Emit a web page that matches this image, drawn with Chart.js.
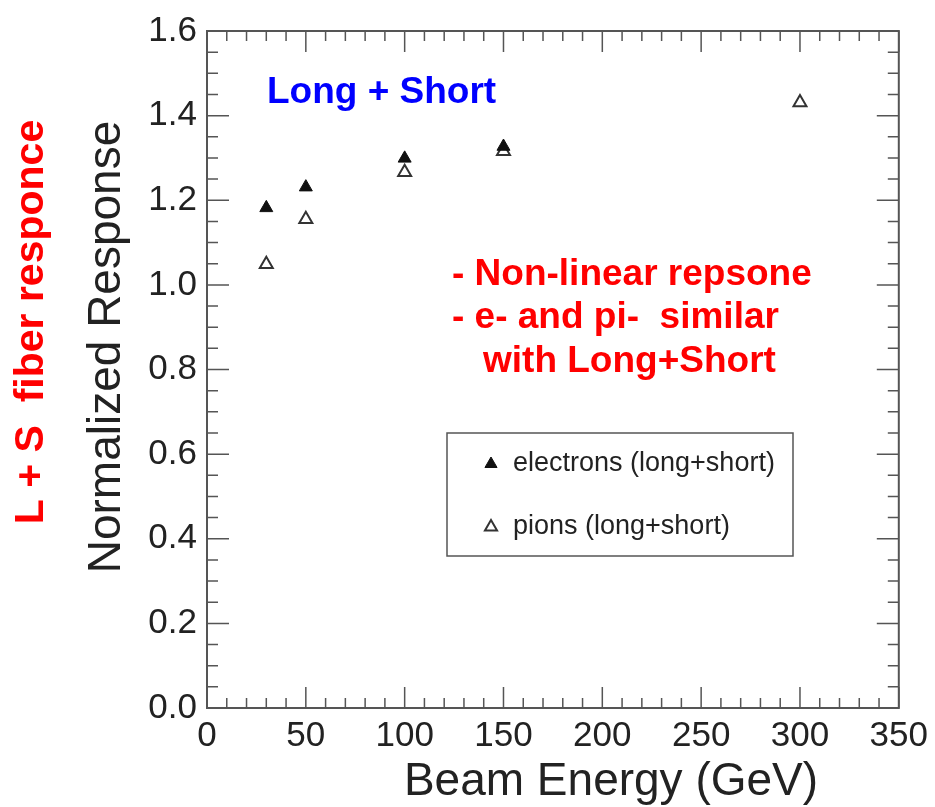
<!DOCTYPE html>
<html>
<head>
<meta charset="utf-8">
<title>Normalized Response vs Beam Energy</title>
<script src="https://cdn.jsdelivr.net/npm/chart.js@4.4.0/dist/chart.umd.min.js"></script>
<style>
  html, body { margin: 0; padding: 0; background: #fff; }
  #wrap { width: 935px; height: 807px; }
</style>
</head>
<body>
<div id="wrap"><canvas id="responseChart" width="935" height="807"></canvas></div>
<script>
// data
const electronEnergy = [30, 50, 100, 150];
const electronResponse = [1.182, 1.231, 1.299, 1.327];
const pionEnergy = [30, 50, 100, 150, 300];
const pionResponse = [1.049, 1.155, 1.266, 1.316, 1.431];
const xTicks = [0, 50, 100, 150, 200, 250, 300, 350];
const yTicks = [0.0, 0.2, 0.4, 0.6, 0.8, 1.0, 1.2, 1.4, 1.6];

const FONT = "'Liberation Sans', Arial, Helvetica, sans-serif";
const AXIS_COLOR = "#555";
const TEXT_COLOR = "#222";

// frame with inward ticks on all four sides
const frameTicks = {
  id: "frameTicks",
  afterDatasetsDraw(chart) {
    const { ctx, chartArea: a, scales: { x, y } } = chart;
    ctx.save();
    ctx.strokeStyle = AXIS_COLOR;
    ctx.lineWidth = 1.5;
    ctx.beginPath();
    for (let v = x.min; v <= x.max; v += 10) {
      const px = x.getPixelForValue(v);
      const len = v % 50 === 0 ? 21 : 10;
      ctx.moveTo(px, a.bottom); ctx.lineTo(px, a.bottom - len);
      ctx.moveTo(px, a.top); ctx.lineTo(px, a.top + len);
    }
    for (let i = 0; i <= 32; i++) {
      const py = y.getPixelForValue(i * 0.05);
      const len = i % 4 === 0 ? 22 : 11;
      ctx.moveTo(a.left, py); ctx.lineTo(a.left + len, py);
      ctx.moveTo(a.right, py); ctx.lineTo(a.right - len, py);
    }
    ctx.stroke();
    ctx.lineWidth = 2;
    ctx.strokeRect(a.left, a.top, a.right - a.left, a.bottom - a.top);
    ctx.restore();
  }
};

// axis titles, notes and the boxed legend
const annotations = {
  id: "annotations",
  afterDraw(chart) {
    const { ctx } = chart;
    ctx.save();
    ctx.textAlign = "left";
    ctx.textBaseline = "alphabetic";

    ctx.fillStyle = "#0000ff";
    ctx.font = "bold 37px " + FONT;
    ctx.fillText("Long + Short", 267, 103);

    ctx.fillStyle = "#ff0000";
    ctx.fillText("- Non-linear repsone", 452, 285);
    ctx.fillText("- e- and pi-  similar", 452, 328);
    ctx.fillText("with Long+Short", 483, 372);

    // x title
    ctx.fillStyle = TEXT_COLOR;
    ctx.font = "46px " + FONT;
    ctx.textAlign = "center";
    ctx.fillText("Beam Energy (GeV)", 611, 795);

    // y title
    ctx.save();
    ctx.translate(120, 347);
    ctx.rotate(-Math.PI / 2);
    ctx.fillText("Normalized Response", 0, 0);
    ctx.restore();

    // side note
    ctx.save();
    ctx.translate(43, 322);
    ctx.rotate(-Math.PI / 2);
    ctx.fillStyle = "#ff0000";
    ctx.font = "bold 41px " + FONT;
    ctx.fillText("L + S  fiber responce", 0, 0);
    ctx.restore();

    // legend
    ctx.strokeStyle = AXIS_COLOR;
    ctx.lineWidth = 1.5;
    ctx.strokeRect(447, 433, 346, 123);
    const rows = [464, 527];
    chart.data.datasets.forEach((ds, i) => {
      ctx.fillStyle = ds.backgroundColor;
      ctx.strokeStyle = ds.borderColor;
      ctx.lineWidth = ds.borderWidth;
      Chart.helpers.drawPoint(ctx, {
        pointStyle: "triangle",
        radius: 7,
        borderWidth: ds.borderWidth,
      }, 491, rows[i]);
      ctx.fillStyle = TEXT_COLOR;
      ctx.font = "27px " + FONT;
      ctx.textAlign = "left";
      ctx.fillText(ds.label, 513, rows[i] + 7);
    });
    ctx.restore();
  }
};

document.addEventListener("DOMContentLoaded", () => {
  const ctx = document.getElementById("responseChart").getContext("2d");
  new Chart(ctx, {
    type: "scatter",
    data: {
      datasets: [
        {
          label: "electrons (long+short)",
          data: electronEnergy.map((e, i) => ({ x: e, y: electronResponse[i] })),
          pointStyle: "triangle",
          pointRadius: 7.5,
          backgroundColor: "#111",
          borderColor: "#111",
          borderWidth: 1,
        },
        {
          label: "pions (long+short)",
          data: pionEnergy.map((e, i) => ({ x: e, y: pionResponse[i] })),
          pointStyle: "triangle",
          pointRadius: 7.5,
          backgroundColor: "#fff",
          borderColor: "#333",
          borderWidth: 2,
        },
      ],
    },
    options: {
      responsive: false,
      animation: false,
      layout: { padding: { top: 29, right: 36, left: 0, bottom: 0 } },
      plugins: {
        legend: { display: false },
        tooltip: { enabled: false },
      },
      scales: {
        x: {
          type: "linear",
          min: 0,
          max: 350,
          grid: { display: false, drawTicks: false },
          border: { display: false },
          afterBuildTicks: (scale) => { scale.ticks = xTicks.map(v => ({ value: v })); },
          afterFit: (scale) => { scale.height = 99; },
          ticks: {
            padding: 7,
            maxRotation: 0,
            color: TEXT_COLOR,
            font: { family: FONT, size: 35 },
          },
        },
        y: {
          type: "linear",
          min: 0,
          max: 1.6,
          grid: { display: false, drawTicks: false },
          border: { display: false },
          afterBuildTicks: (scale) => { scale.ticks = yTicks.map(v => ({ value: v })); },
          afterFit: (scale) => { scale.width = 207; },
          ticks: {
            padding: 10,
            color: TEXT_COLOR,
            font: { family: FONT, size: 35 },
            callback: (v) => Number(v).toFixed(1),
          },
        },
      },
    },
    plugins: [frameTicks, annotations],
  });
});
</script>
</body>
</html>
